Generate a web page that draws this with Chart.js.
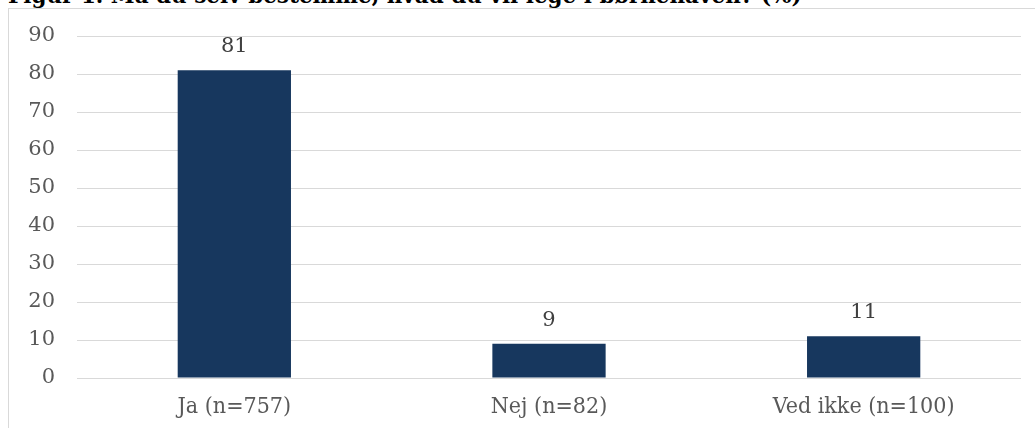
<!DOCTYPE html>
<html>
<head>
<meta charset="utf-8">
<script src="https://cdn.jsdelivr.net/npm/chart.js@4.4.1/dist/chart.umd.min.js"></script>
<style>
  html, body { margin: 0; padding: 0; background: #fff; overflow: hidden; }
  body { width: 1035px; height: 428px; position: relative; }
  #title {
    position: absolute; left: 8px; top: -17px; white-space: nowrap;
    font-family: "DejaVu Serif", serif; font-weight: bold; font-size: 21.5px; color: #000;
  }
  #frame {
    position: absolute; left: 8px; top: 8px; width: 1040px; height: 440px;
    border: 1px solid #d9d9d9; box-sizing: border-box; background: #fff;
  }
  #wrap { position: absolute; left: 9px; top: 9px; width: 1026px; height: 419px; }
</style>
</head>
<body>
<div id="title">Figur 1. Må du selv bestemme, hvad du vil lege i børnehaven? (%)</div>
<div id="frame"></div>
<div id="wrap"><canvas id="c"></canvas></div>
<script>
const categories = ["Ja (n=757)", "Nej (n=82)", "Ved ikke (n=100)"];
const values = [81, 9, 11];
const yTicks = [0, 10, 20, 30, 40, 50, 60, 70, 80, 90];

const valueLabels = {
  id: 'valueLabels',
  afterDatasetsDraw(chart) {
    const ctx = chart.ctx;
    const meta = chart.getDatasetMeta(0);
    ctx.save();
    ctx.font = '21px "DejaVu Serif", serif';
    ctx.fillStyle = '#404040';
    ctx.textAlign = 'center';
    ctx.textBaseline = 'alphabetic';
    meta.data.forEach((bar, i) => {
      ctx.fillText(String(values[i]), bar.x, bar.y - 18);
    });
    ctx.restore();
  }
};

new Chart(document.getElementById('c'), {
  type: 'bar',
  data: {
    labels: categories,
    datasets: [{
      data: values,
      backgroundColor: '#17375e',
      borderWidth: 0,
      barPercentage: 0.72,
      categoryPercentage: 0.5
    }]
  },
  options: {
    responsive: true,
    maintainAspectRatio: false,
    animation: false,
    layout: { padding: { left: 0, right: 14, top: 27, bottom: 0 } },
    plugins: { legend: { display: false }, tooltip: { enabled: false }, title: { display: false } },
    scales: {
      x: {
        grid: { display: false, drawTicks: false },
        border: { display: false },
        ticks: { color: '#595959', font: { family: '"DejaVu Serif Condensed", "DejaVu Serif", serif', size: 23 }, padding: 15 },
        afterFit(s) { s.height = 50; }
      },
      y: {
        min: 0, max: 90,
        afterBuildTicks(s) { s.ticks = yTicks.map(v => ({ value: v })); },
        grid: { color: '#d9d9d9', lineWidth: 1, drawTicks: true, tickLength: 22, tickColor: 'rgba(0,0,0,0)' },
        border: { display: false },
        ticks: { color: '#595959', font: { family: '"DejaVu Serif", serif', size: 21 }, padding: 0 },
        afterFit(s) { s.width = 68; }
      }
    }
  },
  plugins: [valueLabels]
});
</script>
</body>
</html>
